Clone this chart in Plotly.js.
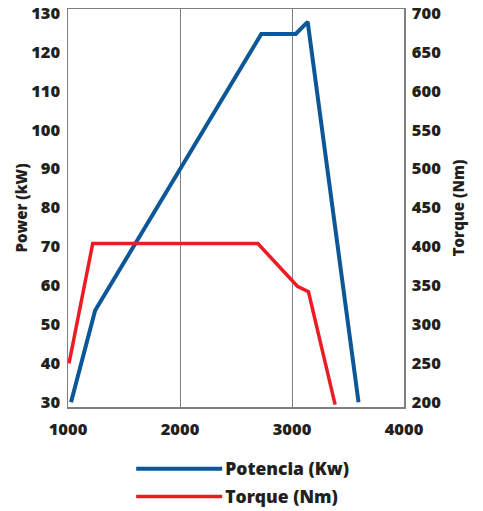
<!DOCTYPE html>
<html>
<head>
<meta charset="utf-8">
<script src="https://cdn.plot.ly/plotly-3.0.1.min.js"></script>
<style>html,body{margin:0;padding:0;background:#fff;}#chart{width:483px;height:511px;}</style>
</head>
<body>
<div id="chart"></div>
<script>
// Engine speed (rpm) and values
var powerRpm = [1027, 1242, 2726, 3033, 3140, 3594];
var powerKw = [30, 53.6, 124.6, 124.6, 127.7, 30];
var torqueRpm = [1009, 1221, 2695, 3048, 3147, 3385];
var torqueNm = [250, 404, 404, 349, 342, 197];
var xTicks = [1000, 2000, 3000, 4000];
var powerTicks = [30, 40, 50, 60, 70, 80, 90, 100, 110, 120, 130];
var torqueTicks = [200, 250, 300, 350, 400, 450, 500, 550, 600, 650, 700];
var seriesNames = ['Potencia (Kw)', 'Torque (Nm)'];

var FONT = '"Open Sans", Lato, sans-serif';
var TXT = '#231f20';
var AX = '#7f7f7f';
var W = 800;

var traces = [
  {x: powerRpm, y: powerKw, name: seriesNames[0], mode: 'lines', yaxis: 'y',
   line: {color: '#0b5797', width: 4}, legendgroup: 'a'},
  {x: torqueRpm, y: torqueNm, name: seriesNames[1], mode: 'lines', yaxis: 'y2',
   line: {color: '#ed1c24', width: 3.5}, legendgroup: 'b'}
];

var tf = {family: FONT, size: 16.5, color: TXT, weight: W};

var layout = {
  width: 483, height: 511,
  margin: {l: 68, r: 79, t: 9, b: 104, autoexpand: false},
  paper_bgcolor: '#fff', plot_bgcolor: '#fff',
  font: {family: FONT, color: TXT, weight: W},
  showlegend: true,
  legend: {
    x: 0.188, xanchor: 'left', y: -0.11, yanchor: 'top',
    orientation: 'v', tracegroupgap: 2, itemwidth: 84,
    font: {family: FONT, size: 17.5, color: TXT, weight: W},
    bgcolor: 'rgba(0,0,0,0)'
  },
  xaxis: {
    range: [1000, 4000], tickvals: xTicks, ticktext: xTicks.map(String),
    showgrid: true, gridcolor: AX, gridwidth: 1,
    showline: true, linecolor: AX, linewidth: 1.5, mirror: true,
    ticks: '', zeroline: false, ticklabelstandoff: 7,
    tickfont: tf
  },
  yaxis: {
    range: [28.8, 131], tickvals: powerTicks,
    showgrid: false, zeroline: false,
    showline: true, linecolor: AX, linewidth: 1.5,
    ticks: '', ticklabelstandoff: 3,
    tickfont: tf,
    title: {text: 'Power (kW)', standoff: 0, font: {family: FONT, size: 15, color: TXT, weight: W}}
  },
  yaxis2: {
    range: [194, 705], tickvals: torqueTicks, overlaying: 'y', side: 'right',
    showgrid: false, zeroline: false,
    showline: true, linecolor: AX, linewidth: 1.5,
    ticks: '', ticklabelstandoff: 3,
    tickfont: tf,
    title: {text: 'Torque (Nm)', standoff: 13, font: {family: FONT, size: 15, color: TXT, weight: W}}
  }
};

Plotly.newPlot('chart', traces, layout, {displayModeBar: false, staticPlot: true}).then(function (gd) {
  // lengthen the legend line samples to the reference's longer strokes
  var paths = gd.querySelectorAll('.legend .legendlines path');
  paths.forEach(function (p) { p.setAttribute('d', 'M5,0h86'); });
});
</script>
</body>
</html>
